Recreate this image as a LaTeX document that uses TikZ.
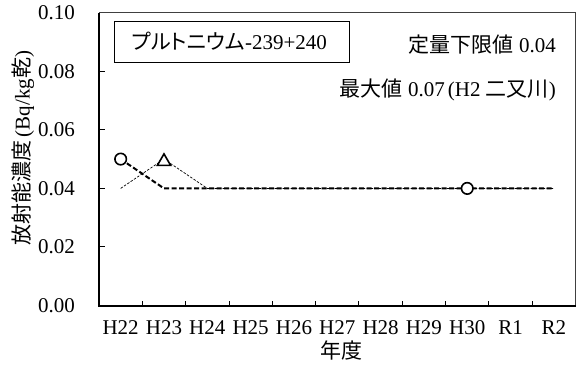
\documentclass[tikz,border=0pt]{standalone}
\usepackage{fontspec}
\usetikzlibrary{calc,shapes.geometric}
\setmainfont{Liberation Serif}
\newfontfamily\jp{Noto Sans CJK JP}
\newfontfamily\jpp[RawFeature=+palt]{Noto Sans CJK JP}
\begin{document}
\begin{tikzpicture}[x=1pt,y=1pt,
  every node/.style={font=\fontsize{21}{25}\selectfont, inner sep=0pt},
  frameline/.style={line width=0.9pt, black!75},
  axisline/.style={line width=2pt, black},
  tickline/.style={line width=0.9pt, black},
  seriesA/.style={line width=2pt, dash pattern=on 5pt off 2.5pt},
  seriesB/.style={line width=0.7pt, dash pattern=on 2.5pt off 1.5pt},
  circmark/.style={circle, draw, line width=1.6pt, minimum size=11.5pt, fill=white},
  trimark/.style={regular polygon, regular polygon sides=3, draw, line width=1.6pt, minimum size=15.4pt, fill=white},
  ylab/.style={anchor=east},
  xlab/.style={anchor=center}
]
\useasboundingbox (0,0) rectangle (577,370);
\begin{scope}[shift={(99,64.5)}, x=43.32pt, y=2928pt]
  % frame
  \draw[frameline] (0,0) rectangle (11,0.1);
  % ticks
  \foreach \v in {0.02,0.04,0.06,0.08}
    \draw[tickline] (0,\v) -- ++(6pt,0);
  \foreach \k in {1,...,10}
    \draw[tickline] (\k,0) -- ++(0,5pt);
  \draw[axisline] (0,0.1) -- (0,0) -- (11,0);
  % y labels
  \foreach \i/\v/\t in {0/0/0.00,1/0.02/0.02,2/0.04/0.04,3/0.06/0.06,4/0.08/0.08,5/0.1/0.10}
    \node[ylab] (yl\i) at ($(0,\v)+(-24pt,0)$) {\t};
  % x labels
  \foreach \k/\t in {0/H22,1/H23,2/H24,3/H25,4/H26,5/H27,6/H28,7/H29,8/H30,9/R1,10/R2}
    \node[xlab] (xl\k) at ($(\k+0.5,0)+(0,-22.5pt)$) {\t};
  % data points
  \foreach \k in {0,...,10} \coordinate (a\k) at (\k+0.5,0.04);
  \coordinate (a0) at (0.5,0.05);
  \coordinate (b0) at (0.5,0.04);
  \coordinate (b1) at (1.5,0.05);
  \coordinate (b2) at (2.5,0.04);
  \draw[seriesB] (b0) -- (b1) -- (b2) -- (a10);
  \draw[seriesA] (a0) -- (a1) -- (a2) -- (a3) -- (a4) -- (a5) -- (a6) -- (a7) -- (a8) -- (a9) -- (a10);
  \node[circmark] (m0) at (a0) {};
  \node[circmark] (m8) at (a8) {};
  \node[trimark] (t1) at ($(b1)+(0,-2.5pt)$) {};
\end{scope}
% legend box
\node[draw, line width=0.9pt, minimum width=235pt, minimum height=41pt] (box) at (231.5,328.5) {};
\node (boxtext) at (229.5,329) {{\jpp プルトニウム}-239+240};
\node[anchor=east] (lim) at (556,325) {{\jp 定量下限値} 0.04};
\node[anchor=east] (mx) at (556,280) {{\jp 最大値} 0.07\kern3pt(H2 {\jp 二又川})};
\node[rotate=90] (ylabel) at (23,222) {{\jp 放射能濃度}\kern3pt(Bq/kg{\jp 乾})};
\node (xlabel) at (341,20) {\jp 年度};
\end{tikzpicture}
\end{document}
